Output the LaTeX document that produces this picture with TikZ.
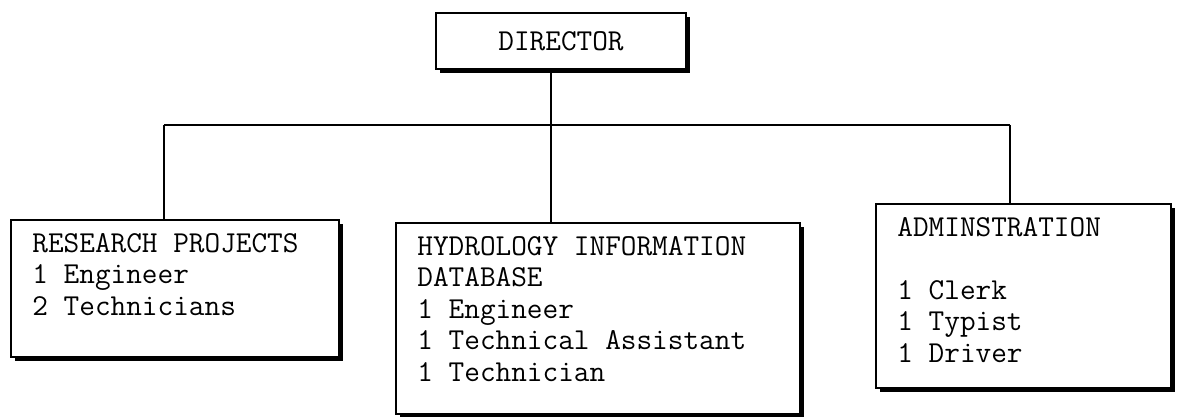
\documentclass[tikz,border=0pt]{standalone}
\usepackage{fontspec}
\usetikzlibrary{positioning,shadows}
\begin{document}
\begin{tikzpicture}[x=0.5pt,y=-0.5pt,
  box/.style={draw,line width=1pt,fill=white,rectangle,anchor=north west,inner sep=0pt,
    drop shadow={shadow xshift=1.8pt,shadow yshift=-1.8pt,fill=black,opacity=1}},
  staff/.style={anchor=north west,align=left,inner sep=0pt,
    font=\ttfamily\fontsize{15.2}{15.75}\selectfont},
  link/.style={line width=1.2pt}]
\useasboundingbox(0,0)rectangle(1180,417);
\node[box,minimum width=125pt,minimum height=28pt](dir)at(435,12){};
\node[staff,anchor=center]at(dir.center){DIRECTOR};
\node[box,minimum width=164pt,minimum height=68.5pt](res)at(10,219){};
\node[staff,below right=7pt and 11pt of res.north west]{RESEARCH PROJECTS\\1 Engineer\\2 Technicians};
\node[box,minimum width=202pt,minimum height=95.5pt](hyd)at(395,222){};
\node[staff,below right=7pt and 11pt of hyd.north west]{HYDROLOGY INFORMATION\\DATABASE\\1 Engineer\\1 Technical Assistant\\1 Technician};
\node[box,minimum width=147.5pt,minimum height=92pt](adm)at(875,203){};
\node[staff,below right=7pt and 11pt of adm.north west]{ADMINSTRATION\\[15.75pt]1 Clerk\\1 Typist\\1 Driver};
\coordinate(busL)at(164,125);
\coordinate(busM)at(551,125);
\coordinate(busR)at(1010,125);
\draw[link](busL)--(busR);
\draw[link](dir.south-|busM)--(hyd.north-|busM);
\draw[link](busL)--(res.north-|busL);
\draw[link](busR)--(adm.north-|busR);
\end{tikzpicture}
\end{document}
